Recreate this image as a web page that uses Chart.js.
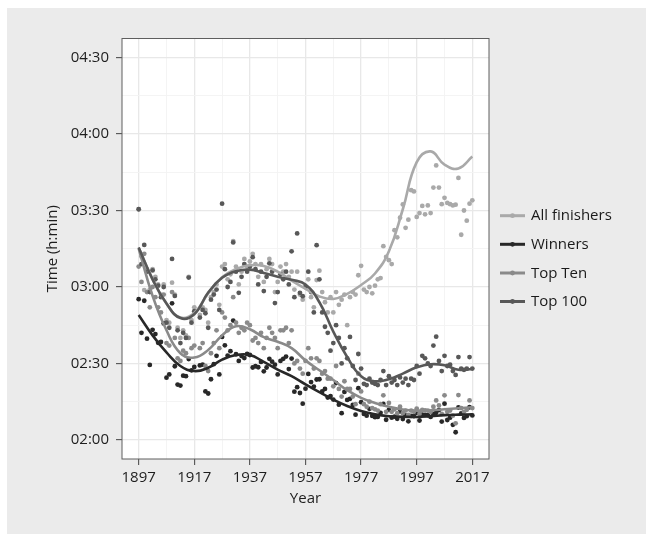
<!DOCTYPE html>
<html>
<head>
<meta charset="utf-8">
<script src="https://cdn.jsdelivr.net/npm/chart.js@4.4.0/dist/chart.umd.min.js"></script>
<style>
  body { margin: 0; background: #fff; }
  #wrap { position: absolute; left: 7px; top: 8px; width: 639px; height: 526px; background: #ebebeb; }
</style>
</head>
<body>
<div id="wrap"><canvas id="chart" width="639" height="526"></canvas></div>
<script>
// years 1897..2017, one value per year (minutes), null = no race
const years = Array.from({length: 121}, (_, i) => 1897 + i);

const winners = [
  175.2, 162.0, 174.6, 159.7, 149.4, 163.2, 161.5, 158.1, 158.4, 165.7,
  144.4, 145.7, 173.6, 148.9, 141.7, 141.3, 145.2, 145.0, 151.7, 147.3,
  148.6, null, 149.2, 149.5, 139.0, 138.2, 143.8, 149.7, 153.0, 145.7,
  160.4, 157.1, 153.1, 154.8, 166.8, 153.6, 151.0, 152.9, 152.1, 153.7,
  153.3, 148.4, 148.9, 148.5, 150.6, 146.9, 148.4, 151.8, 150.7, 149.5,
  145.7, 151.0, 151.8, 152.7, 147.8, 151.9, 138.9, 140.7, 138.4, 134.2,
  140.1, 145.9, 142.7, 140.9, 143.7, 143.8, 139.0, 140.0, 136.6, 137.2,
  135.8, 142.3, 133.8, 130.5, 138.8, 135.7, 136.1, 133.7, 129.9, 140.3,
  134.8, 130.2, 129.5, 132.2, 129.4, 128.9, 129.0, 130.6, 134.1, 127.9,
  131.8, 128.7, 129.1, 128.3, 131.1, 128.2, 129.6, 127.3, 129.4, 129.3,
  130.6, 127.6, 129.9, 129.8, 129.7, 129.0, 130.2, 130.6, 131.7, 127.2,
  134.2, 127.8, 128.7, 125.9, 123.0, 132.7, 130.4, 128.6, 129.3, 132.8,
  129.6
];

const topTen = [
  188, 182, 193, 178, 172, 180, 176, 172, 170, 177,
  158, 157, 178, 160, 152, 151, 155, 154, 160, 156,
  157, null, 156, 158, 149, 147, 154, 158, 163, 156,
  170, 168, 163, 165, 176, 166, 162, 164, 163, 166,
  165, 159, 160, 158, 162, 156, 160, 164, 162, 160,
  156, 163, 163, 164, 158, 163, 150, 151, 148, 146,
  151, 156, 152, 148, 152, 151, 146, 147, 144, 144,
  141, 149, 140, 137, 143, 140, 140, 137, 134, 146,
  139, 134, 133, 135, 132.5, 132, 131.5, 134, 137.5, 131,
  134.5, 131, 132, 130.5, 133, 130.5, 131.5, 129.8, 131.5, 131,
  132.3, 130.2, 131.8, 131.6, 131.5, 131, 133, 135.5, 133.5, 130.2,
  137.5, 131, 131.5, 129.5, 126.5, 137.6, 132.5, 131, 131.8, 135.5,
  132.5
];

const top100 = [
  210.5, 189, 196.5, 186, 178, 186.5, 183, 180.5, 176, 180,
  166, 164, 191, 176.5, 163, 158, 162, 160, 183.7, 166,
  170.5, null, 168, 171, 169.7, 164, 175, 177, 179, 171,
  212.7, 187, 180, 182, 197.5, 186, 177.7, 184, 189, 186,
  188, 191.7, 187, 181, 186, 178.4, 184, 189.3, 186, 173.7,
  178, 185, 183, 186, 181, 194, 176, 201, 177.7, 176.4,
  180, 186, 178, 170, 196.4, 183, 170, 164.4, 162, 155,
  158, 165, 160, 150, 156, 152, 160.4, 149, 143.5, 153.7,
  148, 142, 141.5, 144, 142.5, 142, 141.5, 143.5, 147, 141.5,
  145, 142.5, 143.5, 141.5, 144.5, 142.5, 144, 141.5, 144, 143.5,
  149, 146, 153, 152, 150, 149, 157, 160.5, 151, 147,
  153, 149, 149.5, 147, 145.5, 152.5, 148, 147.5, 148, 152.5,
  148
];

const allFinishers = [
  210.5, 192, 178.8, 187, 179, 187, 184, 181, 177, 181,
  167, 166, 181.7, 177, 164, 160, 163, 161, 184, 167,
  172, null, 169, 172, 171, 166, 176, 178, 181, 173,
  188, 189, 183, 185, 198, 188, 181, 186, 191, 188,
  190, 193, 189, 184, 189, 182, 187, 191, 189, 178,
  182, 188, 186, 189, 184, 186, 179, 186, 177, 175,
  180, 183, 176, 172, 182.7, 186.4, 178, 174, 170, 176,
  170, 178, 173, 175, 177, 165, 176, 178, 177, 184.6,
  188.3, 179, 178, 180, 177.5, 180.5, 183, 183.5, 196, 191.8,
  190.5, 189, 202.3, 199.5, 207.2, 212.4, 203.2, 206.4, 218, 217.5,
  207.5, 209, 211.8, 208.5, 212, 209, 219, 227.7, 219, 212.5,
  215, 213, 212.5, 212, 212.3, 222.8, 200.5, 210, 206, 212.7,
  214
];

// smoothed trend lines
const curveYears = [1897, 1902, 1907, 1912, 1917, 1922, 1927, 1932, 1937, 1942, 1947, 1952,
  1957, 1962, 1967, 1972, 1977, 1982, 1987, 1992, 1997, 2002, 2007, 2012, 2017];
const allCurve = [195.5, 183, 173.5, 168, 169.8, 177.5, 183.8, 187, 188.5, 188.2, 186, 182.5,
  179.3, 176.3, 175.3, 177.3, 180.8, 185.3, 194, 210.5, 229, 233.2, 228, 226.5, 231.2];
const winCurve = [169, 161, 154.3, 149, 147, 148.3, 151.5, 153.3, 153.3, 150.6, 147.6, 145,
  141.8, 138.7, 135.8, 133.3, 131.3, 130, 129.3, 129.1, 129, 129.3, 129.7, 129.9, 130];
const tenCurve = [195, 176.5, 163, 154, 152.3, 155.3, 161, 164.6, 163.4, 160.3, 158.5, 156,
  151.2, 147.3, 143.5, 139.5, 136.5, 134.5, 133, 131.9, 131.5, 131.6, 132, 132.4, 132.8];
const hundCurve = [195.5, 183, 173.5, 167.8, 169.3, 177.8, 183.6, 186.2, 186.8, 185.5, 184, 182.8,
  181, 174, 162.5, 152.5, 145, 143, 143.8, 146, 148.5, 149.7, 149.3, 147.5, 147.8];

const seriesNames = ['All finishers', 'Winners', 'Top Ten', 'Top 100'];
const seriesColors = ['#a9a9a9', '#282828', '#8a8a8a', '#585858'];

const xMajor = [1897, 1917, 1937, 1957, 1977, 1997, 2017];
const xMinor = [1907, 1927, 1947, 1967, 1987, 2007];
const yMajor = [120, 150, 180, 210, 240, 270];
const yMinor = [135, 165, 195, 225, 255];

const FONT = "'Open Sans', sans-serif";

function toPoints(vals) {
  return years.map((y, i) => vals[i] == null ? null : {x: y, y: vals[i]}).filter(p => p);
}
function toCurve(vals) {
  return curveYears.map((y, i) => ({x: y, y: vals[i]}));
}
function hm(v) {
  const h = Math.floor(v / 60), m = Math.round(v % 60);
  return String(h).padStart(2, '0') + ':' + String(m).padStart(2, '0');
}

const pointSets = [allFinishers, winners, topTen, top100];
const curveSets = [allCurve, winCurve, tenCurve, hundCurve];

const datasets = [];
pointSets.forEach((vals, i) => {
  datasets.push({
    label: seriesNames[i] + ' points',
    data: toPoints(vals),
    backgroundColor: seriesColors[i],
    borderColor: seriesColors[i],
    pointRadius: 2.4,
    pointBorderWidth: 0,
    showLine: false,
    order: 8 - i
  });
});
curveSets.forEach((vals, i) => {
  datasets.push({
    label: seriesNames[i],
    data: toCurve(vals),
    borderColor: seriesColors[i],
    borderWidth: 2.6,
    pointRadius: 0,
    showLine: true,
    fill: false,
    tension: 0.45,
    order: 4 - i
  });
});

const panel = {
  id: 'panel',
  beforeDraw(chart) {
    const {ctx, chartArea: a} = chart;
    ctx.save();
    ctx.fillStyle = '#ffffff';
    ctx.fillRect(a.left, a.top, a.right - a.left, a.bottom - a.top);
    ctx.restore();
  },
  afterDraw(chart) {
    const {ctx, chartArea: a} = chart;
    ctx.save();
    ctx.strokeStyle = '#5e5e5e';
    ctx.lineWidth = 1;
    ctx.strokeRect(a.left, a.top, a.right - a.left, a.bottom - a.top);

    // legend
    const lx = 493, tx = 524, ys = [207.7, 236.3, 265, 293.5];
    ctx.font = '15px ' + FONT;
    ctx.textBaseline = 'middle';
    ctx.textAlign = 'left';
    seriesNames.forEach((name, i) => {
      ctx.strokeStyle = seriesColors[i];
      ctx.lineWidth = 3;
      ctx.beginPath();
      ctx.moveTo(lx, ys[i]);
      ctx.lineTo(lx + 25, ys[i]);
      ctx.stroke();
      ctx.fillStyle = seriesColors[i];
      ctx.beginPath();
      ctx.arc(lx + 12.5, ys[i], 2.4, 0, Math.PI * 2);
      ctx.fill();
      ctx.fillStyle = '#1a1a1a';
      ctx.fillText(name, tx, ys[i] + 0.5);
    });
    ctx.restore();
  }
};

function gridFor(major) {
  return {
    color: c => major.includes(c.tick.value) ? '#e8e8e8' : '#f3f3f3',
    lineWidth: c => major.includes(c.tick.value) ? 1.3 : 0.9,
    tickColor: c => major.includes(c.tick.value) ? '#444' : 'rgba(0,0,0,0)',
    tickWidth: 1,
    tickLength: 6
  };
}

new Chart(document.getElementById('chart'), {
  type: 'scatter',
  data: {datasets: datasets},
  plugins: [panel],
  options: {
    responsive: false,
    animation: false,
    layout: {padding: {top: 30.5, right: 157, left: 0, bottom: 0}},
    plugins: {legend: {display: false}, tooltip: {enabled: false}},
    scales: {
      x: {
        type: 'linear',
        min: 1891,
        max: 2023,
        afterBuildTicks: s => { s.ticks = xMajor.concat(xMinor).sort((a, b) => a - b).map(v => ({value: v})); },
        afterFit: s => { s.height = 75; },
        grid: gridFor(xMajor),
        border: {display: false},
        ticks: {
          autoSkip: false, maxRotation: 0, padding: 4, color: '#1e1e1e',
          font: {family: FONT, size: 15},
          callback: v => xMajor.includes(v) ? String(v) : ''
        },
        title: {display: true, text: 'Year', color: '#1e1e1e', font: {family: FONT, size: 15},
          padding: {top: 0, bottom: 26}}
      },
      y: {
        type: 'linear',
        min: 112.5,
        max: 277.5,
        afterBuildTicks: s => { s.ticks = yMajor.concat(yMinor).sort((a, b) => a - b).map(v => ({value: v})); },
        afterFit: s => { s.width = 115; },
        grid: gridFor(yMajor),
        border: {display: false},
        ticks: {
          autoSkip: false, padding: 7, color: '#1e1e1e',
          font: {family: FONT, size: 15},
          callback: v => yMajor.includes(v) ? hm(v) : ''
        },
        title: {display: true, text: 'Time (h:min)', color: '#1e1e1e', font: {family: FONT, size: 15},
          padding: {top: 37, bottom: 0}}
      }
    }
  }
});
</script>
</body>
</html>
